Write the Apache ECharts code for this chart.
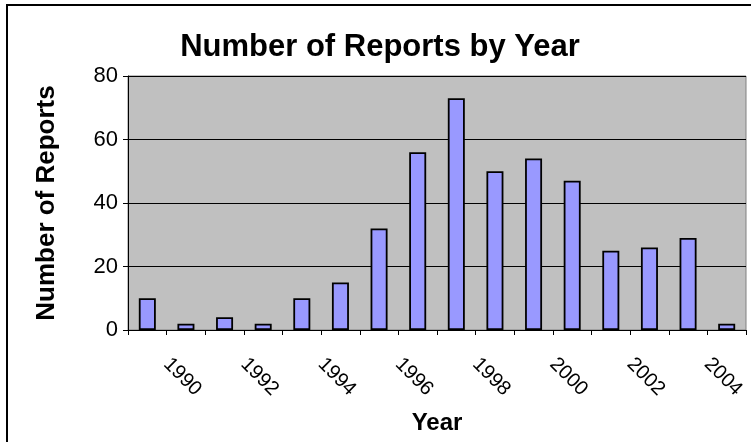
<!DOCTYPE html>
<html>
<head>
<meta charset="utf-8">
<script src="https://cdn.jsdelivr.net/npm/echarts@6/dist/echarts.min.js"></script>
<style>
  html, body { margin: 0; padding: 0; background: #fff; }
  #chart { width: 751px; height: 442px; }
</style>
</head>
<body>
<div id="chart"></div>
<script>
// data
const years = ['1989', '1990', '1991', '1992', '1993', '1994', '1995', '1996',
  '1997', '1998', '1999', '2000', '2001', '2002', '2003', '2004'];
const reports = [10, 2, 4, 2, 10, 15, 32, 56, 73, 50, 54, 47, 25, 26, 29, 2];
// only every other year gets a label
const yearLabels = ['1990', '1992', '1994', '1996', '1998', '2000', '2002', '2004'];
const yTicks = [0, 20, 40, 60, 80];

const font = 'Liberation Sans, Arial, sans-serif';

const chart = echarts.init(document.getElementById('chart'));

const option = {
  animation: false,
  backgroundColor: '#fff',
  textStyle: { fontFamily: font, color: '#000' },
  title: {
    text: 'Number of Reports by Year',
    left: 375,
    textAlign: 'center',
    top: 27,
    textStyle: { fontFamily: font, fontSize: 31, fontWeight: 'bold', color: '#000' }
  },
  graphic: [{
    type: 'rect',
    shape: { x: 7, y: 5, width: 800, height: 500 },
    style: { fill: 'none', stroke: '#000', lineWidth: 2 },
    silent: true
  }],
  grid: {
    left: 128, right: 5, top: 76, bottom: 112,
    show: true,
    backgroundColor: '#c0c0c0',
    borderColor: '#808080',
    borderWidth: 1
  },
  xAxis: [
    {
      type: 'category',
      data: years,
      name: 'Year',
      nameLocation: 'middle',
      nameGap: 81,
      nameTextStyle: { fontFamily: font, fontSize: 24, fontWeight: 'bold', color: '#000' },
      axisLine: { lineStyle: { color: '#000', width: 1 } },
      axisTick: { show: true, length: 5, lineStyle: { color: '#000' } },
      axisLabel: { show: false }
    },
    {
      // label carrier: labels sit on the category boundaries like the original
      type: 'value',
      min: 0,
      max: years.length,
      interval: 1,
      position: 'bottom',
      axisLine: { show: false },
      axisTick: { show: false },
      splitLine: { show: false },
      axisLabel: {
        rotate: -45,
        margin: 31,
        fontFamily: font,
        fontSize: 20,
        color: '#000',
        formatter: function (v) {
          const y = years[v];
          return yearLabels.indexOf(y) >= 0 ? y : '';
        }
      }
    }
  ],
  yAxis: {
    type: 'value',
    min: yTicks[0],
    max: yTicks[yTicks.length - 1],
    interval: 20,
    name: 'Number of Reports',
    nameLocation: 'middle',
    nameGap: 68,
    nameTextStyle: { fontFamily: font, fontSize: 26, fontWeight: 'bold', color: '#000' },
    axisLine: { show: true, lineStyle: { color: '#000', width: 1 } },
    axisTick: { show: true, length: 5, lineStyle: { color: '#000' } },
    axisLabel: { fontFamily: font, fontSize: 22, color: '#000', margin: 10 },
    splitLine: { show: true, lineStyle: { color: '#000', width: 1 } }
  },
  series: [{
    type: 'bar',
    data: reports,
    xAxisIndex: 0,
    barWidth: 17,
    itemStyle: { color: '#9999ff', borderColor: '#000', borderWidth: 1.8 }
  }]
};

chart.setOption(option);
</script>
</body>
</html>
